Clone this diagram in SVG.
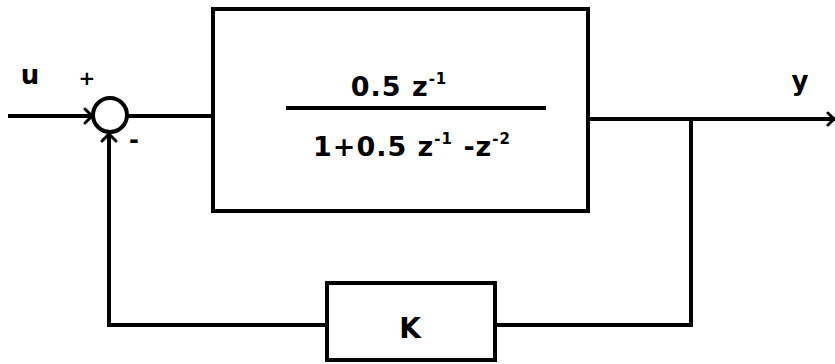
<svg xmlns="http://www.w3.org/2000/svg" width="835" height="364" viewBox="0 0 835 364">
<defs>
<style>
.ln{stroke:#000;stroke-width:4;fill:none;stroke-linecap:square}
.bx{stroke:#000;stroke-width:4;fill:#fff}
.t{font-family:"DejaVu Sans","Liberation Sans",sans-serif;font-weight:bold;fill:#000}
.ah{stroke:#000;stroke-width:3;fill:none;stroke-linecap:round}
</style>
</defs>
<rect width="835" height="364" fill="#fff"/>
<g id="connectors">
<line class="ln" x1="10" y1="116" x2="92" y2="116"/>
<path class="ah" d="M85 109 L92 116 L85 123"/>
<line class="ln" x1="128" y1="116" x2="213" y2="116"/>
<line class="ln" x1="588" y1="119" x2="833" y2="119"/>
<path class="ah" d="M828 113 L834 119 L828 125"/>
<line class="ln" x1="691" y1="119" x2="691" y2="325"/>
<line class="ln" x1="691" y1="325" x2="495" y2="325"/>
<line class="ln" x1="327" y1="325" x2="109" y2="325"/>
<line class="ln" x1="109" y1="325" x2="109" y2="134"/>
<path class="ah" d="M102 141 L109 134 L116 141"/>
</g>
<g id="sum">
<circle cx="110" cy="115" r="17" stroke="#000" stroke-width="4" fill="#fff"/>
<text class="t" x="87" y="85" font-size="20" text-anchor="middle">+</text>
<text class="t" x="134" y="148" font-size="24" text-anchor="middle">-</text>
</g>
<g id="plant">
<rect class="bx" x="213" y="9" width="375" height="202"/>
<text class="t" x="399" y="96" font-size="27" text-anchor="middle" letter-spacing="1">0.5 z<tspan font-size="15" dy="-12">-1</tspan></text>
<line class="ln" x1="288" y1="108" x2="544" y2="108"/>
<text class="t" x="412" y="156" font-size="27" text-anchor="middle" letter-spacing="1">1+0.5 z<tspan font-size="15" dy="-12">-1</tspan><tspan dy="12"> -z</tspan><tspan font-size="15" dy="-12">-2</tspan></text>
</g>
<g id="gain">
<rect class="bx" x="327" y="283" width="168" height="77"/>
<text class="t" x="410" y="338" font-size="28" text-anchor="middle">K</text>
</g>
<g id="labels">
<text class="t" x="30" y="84" font-size="26" text-anchor="middle">u</text>
<text class="t" x="800" y="90" font-size="26" text-anchor="middle">y</text>
</g>
</svg>
